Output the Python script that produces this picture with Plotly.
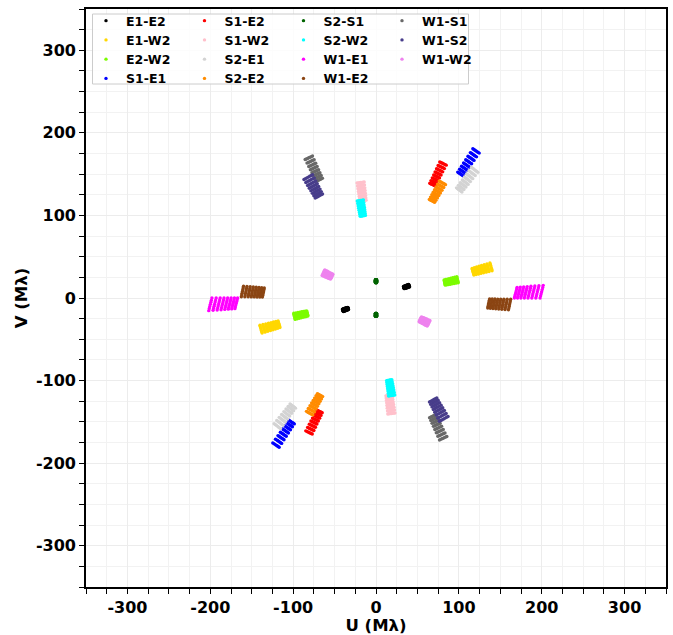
import plotly.graph_objects as go

# Wavelength channels (micron)
wavelengths_um = [1.51, 1.55, 1.59, 1.63, 1.67, 1.71, 1.75, 1.79]

baselines = ["E1-E2", "E1-W2", "E2-W2", "S1-E1",
             "S1-E2", "S1-W2", "S2-E1", "S2-E2",
             "S2-S1", "S2-W2", "W1-E1", "W1-E2",
             "W1-S1", "W1-S2", "W1-W2"]

colors = ["black", "gold", "lawngreen", "blue",
          "red", "pink", "lightgray", "darkorange",
          "darkgreen", "cyan", "magenta", "saddlebrown",
          "dimgray", "darkslateblue", "violet"]

# Axis tick values / labels
tick_vals = [-300, -200, -100, 0, 100, 200, 300]
tick_text = ["-300", "-200", "-100", "0", "100", "200", "300"]

# Projected baseline vectors (metres) for each observation
u_E1_E2 = [61.1, 60.8, 60.5, 60.25, 60.0, 59.7, 59.4]
v_E1_E2 = [20.3, 21.1, 21.8, 22.6, 23.4, 24.1, 24.9]
u_E1_W2 = [211.5, 210.9, 210.2, 209.6, 208.9, 208.3, 207.6]
v_E1_W2 = [49.8, 52.2, 54.6, 56.9, 59.3, 61.7, 64.1]
u_E2_W2 = [149.8, 149.4, 148.9, 148.5, 148.1, 147.6, 147.2]
v_E2_W2 = [27.9, 29.8, 31.6, 33.5, 35.4, 37.2, 39.1]
u_S1_E1 = [188.1, 186.2, 184.2, 182.3, 180.4, 178.4, 176.5]
v_S1_E1 = [265.0, 266.3, 267.6, 269.0, 270.3, 271.6, 272.9]
u_S1_E2 = [128.0, 126.0, 124.1, 122.1, 120.1, 118.2, 116.2]
v_S1_E2 = [242.9, 243.9, 244.9, 245.9, 246.8, 247.8, 248.8]
u_S1_W2 = [-21.5, -23.7, -25.9, -28.1, -30.2, -32.4, -34.6]
v_S1_W2 = [212.1, 211.8, 211.5, 211.2, 210.9, 210.6, 210.3]
u_S2_E1 = [185.7, 183.8, 181.8, 179.9, 177.9, 176.0, 174.0]
v_S2_E1 = [229.8, 231.3, 232.8, 234.3, 235.8, 237.3, 238.8]
u_S2_E2 = [126.7, 124.8, 122.9, 121.0, 119.0, 117.1, 115.2]
v_S2_E2 = [207.3, 208.4, 209.5, 210.6, 211.6, 212.7, 213.8]
u_S2_S1 = [1.2, 0.8, 0.4, 0.0, -0.4, -0.8, -1.2]
v_S2_S1 = [33.3, 33.3, 33.3, 33.3, 33.3, 33.3, 33.3]
u_S2_W2 = [-22.9, -24.8, -26.7, -28.6, -30.4, -32.3, -34.2]
v_S2_W2 = [179.1, 178.8, 178.5, 178.2, 177.9, 177.6, 177.3]
u_W1_E1 = [299.0, 300.0, 300.9, 301.9, 302.9, 303.8, 304.8]
v_W1_E1 = [0.0, 3.9, 7.7, 11.6, 15.4, 19.3, 23.1]
u_W1_E2 = [241.4, 242.1, 242.7, 243.4, 244.1, 244.7, 245.4]
v_W1_E2 = [-21.6, -18.4, -15.1, -11.9, -8.7, -5.4, -2.2]
u_W1_S1 = [-129.1, -126.9, -124.6, -122.4, -120.2, -117.9, -115.7]
v_W1_S1 = [253.2, 254.3, 255.3, 256.4, 257.5, 258.5, 259.6]
u_W1_S2 = [-131.3, -128.7, -126.0, -123.4, -120.8, -118.1, -115.5]
v_W1_S2 = [216.7, 218.2, 219.6, 221.1, 222.6, 224.0, 225.5]
u_W1_W2 = [93.2, 94.0, 94.9, 95.7, 96.5, 97.4, 98.2]
v_W1_W2 = [-51.4, -49.7, -47.9, -46.2, -44.5, -42.7, -41.0]

obs_u = [u_E1_E2, u_E1_W2, u_E2_W2, u_S1_E1, u_S1_E2, u_S1_W2, u_S2_E1, u_S2_E2,
         u_S2_S1, u_S2_W2, u_W1_E1, u_W1_E2, u_W1_S1, u_W1_S2, u_W1_W2]
obs_v = [v_E1_E2, v_E1_W2, v_E2_W2, v_S1_E1, v_S1_E2, v_S1_W2, v_S2_E1, v_S2_E2,
         v_S2_S1, v_S2_W2, v_W1_E1, v_W1_E2, v_W1_S1, v_W1_S2, v_W1_W2]

fig = go.Figure()
for i, name in enumerate(baselines):
    xs, ys = [], []
    for um, vm in zip(obs_u[i], obs_v[i]):
        for lam in wavelengths_um:
            xs += [um / lam, -um / lam]
            ys += [vm / lam, -vm / lam]
    col = i // 4
    leg = "legend" if col == 0 else f"legend{col + 1}"
    fig.add_trace(go.Scatter(
        x=xs, y=ys, mode="markers", name=name, legend=leg,
        marker=dict(color=colors[i], size=3.4, line=dict(width=0)),
    ))

W, H = 673, 635
ml, mr, mt, mb = 86, 7, 9, 48
pw, ph = W - ml - mr, H - mt - mb

def px2paper_x(px):
    return (px - ml) / pw

def px2paper_y(py):
    return 1 - (py - mt) / ph

legend_font = dict(family="DejaVu Sans", size=12.5, color="black", weight="bold")
layout_legends = {}
col_left_px = [86, 184.5, 283.5, 382]
for c in range(4):
    key = "legend" if c == 0 else f"legend{c + 1}"
    layout_legends[key] = dict(
        x=px2paper_x(col_left_px[c]), y=px2paper_y(6), xanchor="left", yanchor="top",
        bgcolor="rgba(0,0,0,0)", borderwidth=0, font=legend_font,
        itemwidth=30, tracegroupgap=0, orientation="v",
    )

axis_common = dict(
    range=[-350, 350], tickmode="array", tickvals=tick_vals, ticktext=tick_text,
    showline=True, linecolor="black", linewidth=1.6, mirror=True,
    ticks="outside", ticklen=5, tickwidth=1.3, tickcolor="black",
    showgrid=True, gridcolor="#ececec", gridwidth=1,
    zeroline=False,
    tickfont=dict(family="DejaVu Sans", size=16, color="black", weight="bold"),
    minor=dict(dtick=25, tick0=0, ticks="outside", ticklen=5, tickwidth=1.3,
               tickcolor="black", showgrid=True, gridcolor="#f2f2f2", gridwidth=1),
)

title_font = dict(family="DejaVu Sans", size=16.5, color="black", weight="bold")
fig.update_layout(
    width=W, height=H,
    margin=dict(l=ml, r=mr, t=mt, b=mb, autoexpand=False),
    paper_bgcolor="white", plot_bgcolor="white",
    showlegend=True,
    xaxis=dict(axis_common, title=dict(text="U (Mλ)", standoff=2, font=title_font)),
    yaxis=dict(axis_common, title=dict(text="V (Mλ)", standoff=4, font=title_font)),
    shapes=[dict(type="rect", xref="paper", yref="paper",
                 x0=px2paper_x(92.5), x1=px2paper_x(468.5),
                 y0=px2paper_y(84), y1=px2paper_y(14),
                 line=dict(color="#cccccc", width=1),
                 fillcolor="rgba(255,255,255,0.85)", layer="above")],
    **layout_legends,
)

fig.write_html("out.html")
